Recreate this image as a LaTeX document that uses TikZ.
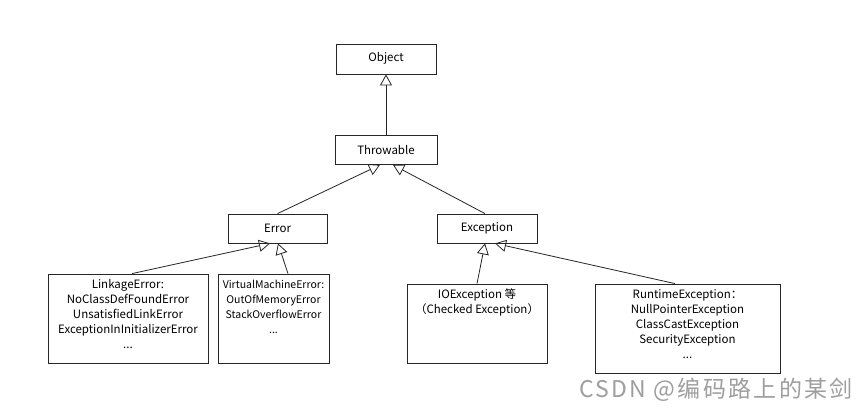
\documentclass[tikz,border=0pt]{standalone}
\usepackage{fontspec}
\setmainfont{Noto Sans CJK SC}
\usetikzlibrary{arrows.meta}
\begin{document}
\begin{tikzpicture}[x=1pt,y=-1pt,
  box/.style={draw=black!85,line width=0.8pt,minimum width=#1,inner sep=0pt},
  lbl/.style={font=\fontsize{11.5}{15}\selectfont,align=center,anchor=north,inner sep=0pt,text=black},
  inh/.style={draw=black!85,line width=0.8pt,-{Triangle[open,length=11pt,width=12pt]}}]
\useasboundingbox (0,0) rectangle (868,414);
\fill[white] (0,0) rectangle (868,414);
% boxes
\node[box=100pt,minimum height=30pt] (obj) at (386,59) {};
\node[box=102pt,minimum height=29pt] (thr) at (386,150) {};
\node[box=99pt,minimum height=29pt] (err) at (277.5,228.5) {};
\node[box=100pt,minimum height=29pt] (exc) at (487,228.5) {};
\node[box=160pt,minimum height=89pt] (lnk) at (128,318.5) {};
\node[box=111pt,minimum height=89pt] (vme) at (273.5,318.5) {};
\node[box=140pt,minimum height=79pt] (ioe) at (477,323.5) {};
\node[box=185pt,minimum height=89pt] (rte) at (687.5,328.5) {};
% texts
\node[lbl,anchor=center] (tobj) at ([yshift=1pt]obj.center) {Object};
\node[lbl,anchor=center] (tthr) at (thr.center) {Throwable};
\node[lbl,anchor=center] (terr) at (err.center) {Error};
\node[lbl,anchor=center] (texc) at (exc.center) {Exception};
\node[lbl] (tlnk) at ([yshift=-6pt]lnk.north) {LinkageError:\\NoClassDefFoundError\\UnsatisfiedLinkError\\ExceptionInInitializerError\\...};
\node[lbl,font=\fontsize{10.5}{15}\selectfont] (tvme) at ([yshift=-6pt]vme.north) {VirtualMachineError:\\OutOfMemoryError\\StackOverflowError\\...};
\node[lbl] (tioe) at ([yshift=-5pt]ioe.north) {IOException 等\\（Checked Exception）};
\node[lbl] (trte) at ([yshift=-6pt]rte.north) {RuntimeException：\\NullPointerException\\ClassCastException\\SecurityException\\...};
% connectors
\draw[inh] (thr.north) -- (obj.south);
\draw[inh] (err.north) -- ([xshift=-6pt]thr.south);
\draw[inh] ([xshift=-2pt]exc.north) -- ([xshift=7pt]thr.south);
\draw[inh] ([xshift=4pt]lnk.north) -- ([xshift=-7.5pt]err.south);
\draw[inh] ([xshift=14.5pt]vme.north) -- ([xshift=0.5pt]err.south);
\draw[inh] (ioe.north) -- ([xshift=-2pt]exc.south);
\draw[inh] ([xshift=-12.5pt]rte.north) -- ([xshift=8pt]exc.south);
% watermark
\node[font=\fontsize{23}{25}\selectfont\addfontfeatures{LetterSpace=10},text=black!38,anchor=east,inner sep=0pt] (wm) at (853,390) {CSDN @编码路上的某剑};
\end{tikzpicture}
\end{document}
